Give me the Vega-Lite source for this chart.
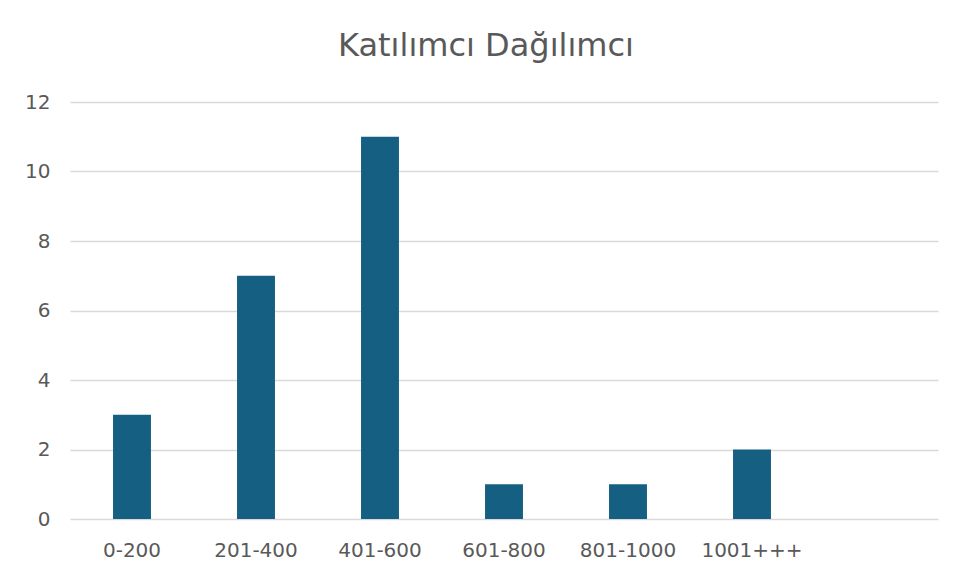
{
  "$schema": "https://vega.github.io/schema/vega-lite/v6.json",
  "autosize": "none",
  "width": 868,
  "height": 417,
  "padding": {"left": 70, "top": 102, "right": 20, "bottom": 66},
  "background": "white",
  "config": {
    "view": {"stroke": null},
    "font": "DejaVu Sans"
  },
  "title": {
    "text": "Katılımcı Dağılımcı",
    "fontSize": 32,
    "font": "DejaVu Sans",
    "fontWeight": "normal",
    "color": "#595959",
    "anchor": "middle",
    "dx": -18,
    "offset": 29
  },
  "data": {
    "values": [
      {"aralik": "0-200", "sayi": 3},
      {"aralik": "201-400", "sayi": 7},
      {"aralik": "401-600", "sayi": 11},
      {"aralik": "601-800", "sayi": 1},
      {"aralik": "801-1000", "sayi": 1},
      {"aralik": "1001+++", "sayi": 2},
      {"aralik": " ", "sayi": null}
    ]
  },
  "mark": {"type": "bar", "color": "#156082"},
  "encoding": {
    "x": {
      "field": "aralik",
      "type": "nominal",
      "sort": null,
      "scale": {
        "domain": ["0-200", "201-400", "401-600", "601-800", "801-1000", "1001+++", " "],
        "paddingInner": 0.694,
        "paddingOuter": 0.347
      },
      "axis": {
        "title": null,
        "labelAngle": 0,
        "domain": false,
        "ticks": false,
        "labelFontSize": 20,
        "labelColor": "#595959",
        "labelPadding": 21,
        "labelFont": "DejaVu Sans"
      }
    },
    "y": {
      "field": "sayi",
      "type": "quantitative",
      "scale": {"domain": [0, 12]},
      "axis": {
        "title": null,
        "values": [0, 2, 4, 6, 8, 10, 12],
        "domain": false,
        "ticks": false,
        "gridColor": "#d9d9d9",
        "gridWidth": 1.5,
        "labelFontSize": 20,
        "labelColor": "#595959",
        "labelPadding": 20,
        "labelFont": "DejaVu Sans"
      }
    }
  }
}
